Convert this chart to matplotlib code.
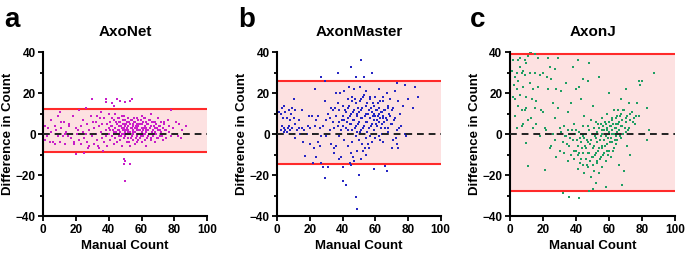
import matplotlib
matplotlib.use("Agg")
import matplotlib.pyplot as plt
from matplotlib.ticker import MultipleLocator

plt.rcParams["font.family"] = ["Liberation Sans", "DejaVu Sans"]
plt.rcParams["font.weight"] = "bold"

# ---- data ----
TITLES = ["AxoNet", "AxonMaster", "AxonJ"]
LETTERS = ["a", "b", "c"]
POINT_COLORS = ["#c81ec8", "#2626c4", "#1f9e63"]

# limits of agreement (upper, lower)
UPPER = [12.5, 26.0, 39.3]
LOWER = [-8.5, -14.7, -27.8]

axonet_pts = [
    (1, -3), (1, 4), (2, -1), (3, 3), (4, -4), (5, 7), (5, 1), (6, -4), (7, -5), (7, 4),
    (8, 2), (9, -1), (9, 9), (10, -4), (10, 11), (11, 3), (11, 6), (12, -1), (13, 0), (13, -5),
    (14, 1), (15, -1), (16, 5), (17, -2), (18, 9), (19, -4), (20, 3), (20, -9.5), (21, 2), (22, -3),
    (22, 12), (23, -5), (23, 4), (24, 7), (25, -2), (25, -9), (26, 0), (26, 13), (27, 5), (27, -4),
    (28, 2), (28, -6), (29, 9), (30, -1), (30, 17),
    (31, 3), (31, -5), (32, 6), (32, 0), (33, -3), (33, 9), (34, 4), (34, -7), (35, 1), (35, 11),
    (36, -2), (36, 5), (37, 8), (37, -4), (38, 2), (38, 17), (38, 15.5), (38, -1), (39, 5), (39, -6),
    (40, 10), (40, 0), (40, 3),
    (41, -3), (41, 6), (41, 2), (42, 8), (42, -1), (42, 4), (42, 15), (43, 1), (43, -5), (43, 7),
    (43, 14), (44, 3), (44, -2), (44, 10), (45, 5), (45, 0), (45, 17), (45, -4), (46, 2), (46, 8),
    (46, -1), (46, 4), (47, 6), (47, -3), (47, 16), (47, 1), (48, 3), (48, 9), (48, -6), (48, 0),
    (49, 5), (49, 2), (49, -2), (49, -12), (49, -14.5), (50, 4), (50, 7), (50, -1), (50, -13), (50, -23),
    (50, 15.5), (50, 1),
    (51, 3), (51, -4), (51, 6), (51, 0), (52, 2), (52, 8), (52, -2), (52, 4), (53, 1), (53, 5),
    (53, 16), (53, -14.5), (53, -6), (54, 3), (54, -1), (54, 7), (54, 17), (55, 2), (55, 4), (55, -3),
    (55, 0), (56, 6), (56, 1), (56, -5), (56, 3), (57, 8), (57, -1), (57, 2), (57, 5), (58, 0),
    (58, 4), (58, -3), (58, 7), (59, 2), (59, -2), (59, 5), (60, 3), (60, 1), (60, -4), (60, 9),
    (61, 2), (61, 6), (61, -1), (62, 4), (62, 0), (62, 8), (62, -3), (63, 3), (63, 1), (63, -6),
    (64, 5), (64, 2), (64, -1), (65, 7), (65, 0), (65, 3), (66, -3), (66, 4), (66, 10), (67, 2),
    (67, -1), (67, 6), (68, 1), (68, 3), (68, -4), (69, 5), (69, 0), (70, 2), (70, -2), (70, 8),
    (71, 4), (71, -1), (72, 1), (72, 6), (73, -3), (73, 3), (74, 0), (74, 5), (75, 2), (75, -2),
    (76, 7), (77, 1), (77, 4), (78, -1), (78, 12), (79, 3), (80, 0), (81, 6), (82, -1), (83, 5),
    (84, -2), (85, 2), (87, 4),
    (40.5, 6), (41.5, 4), (42.5, 2), (43.5, 3), (44.5, 6), (44.5, 1), (45.5, 2), (45.5, 8), (46.5, 6), (46.5, 0),
    (47.5, 4), (47.5, -1), (48.5, 5), (48.5, 2), (48.5, 7), (49.5, 0), (49.5, 3), (49.5, 9), (50.5, 2), (50.5, 5),
    (51.5, 1), (51.5, 4), (51.5, 8), (52.5, 0), (52.5, 6), (52.5, -4), (53.5, 3), (53.5, -2), (53.5, 7), (54.5, 1),
    (54.5, 5), (54.5, -3), (55.5, 6), (55.5, 8), (55.5, 1), (56.5, -2), (56.5, 4), (57.5, 0), (57.5, 3), (57.5, -4),
    (58.5, 2), (58.5, 5), (59.5, 0), (59.5, 7), (59.5, -1), (60.5, 5), (60.5, -1), (61.5, 3), (61.5, 0), (61.5, 8),
    (62.5, 2), (62.5, 6), (63.5, 5), (63.5, -2), (64.5, 0), (64.5, 7), (65.5, 4), (65.5, -2), (66.5, 1), (66.5, 6),
    (67.5, 4), (67.5, 0), (68.5, 6), (69.5, 3), (69.5, -2), (70.5, 4), (71.5, 2), (72.5, -1), (73.5, 6), (74.5, 2),
    (20.5, 0), (15.5, 4), (24.5, 1), (33.5, -6), (36.5, -8), (34.5, 8), (30.5, 6), (27.5, -7), (18.5, -5), (12.5, 6),
]

axonmaster_pts = [
    (0, 5), (0, 8), (1, 11), (2, 2), (2, 10), (3, 4), (3, 13), (4, 1), (4, 3), (4, 14),
    (5, 2), (5, 11), (6, 8), (6, 1), (7, 4), (7, 12), (8, 7), (8, 2), (9, 3), (9, 13),
    (10, 17), (10, 0), (10, 8), (11, -2), (11, 5), (11, 12), (12, 2), (13, 3), (14, 0), (15, 12),
    (15, 3), (16, -4), (17, -10.5), (18, 0), (19, 4), (20, -5), (20, 3),
    (21, 9), (22, -14), (22, 0), (23, 22), (23, 4), (24, -11), (24, 7), (25, -4), (25, 9), (26, -6),
    (26, 3), (27, 28), (27, -14), (28, -16), (28, 4), (29, -21.5), (29, 26), (29, 16), (30, 7), (30, -1),
    (31, -16), (31, 10), (32, 2), (33, 13), (33, -5), (34, 6), (34, 12), (35, -7), (35, 3),
    (36, 20), (36, 9), (36, -6), (37, 4), (37, 30), (37, 15), (38, -1), (38, 12), (38, 6), (39, -11),
    (39, 2), (40, -23), (40, -16), (40, 9), (40, 14), (41, 7), (41, 21), (41, -3), (42, -25), (42, 11),
    (42, 3), (43, 17), (43, -6), (43, 8), (44, 0), (44, 23), (44, 14), (45, 33), (45, 5), (45, -15),
    (45, 10), (45, -9),
    (46, 18), (46, 2), (46, -4), (47, 12), (47, -13), (47, 7), (47, 22), (48, 28), (48, -30.5), (48, 4),
    (48, 15), (48, -1), (49, -36.5), (49, 9), (49, 1), (49, -8), (50, -20), (50, 11), (50, 6), (50, -3),
    (51, 36), (51, 17), (51, 2), (51, -12), (52, 8), (52, -5), (52, 13), (53, 28), (53, 0), (53, 4),
    (53, 19), (54, 10), (54, -2), (54, -10), (55, 6), (55, 15), (55, 1),
    (56, 12), (56, -7), (56, 3), (57, 18), (57, 8), (57, -1), (58, 30), (58, 5), (58, 11), (58, -4),
    (59, -17), (59, 14), (59, 2), (60, 9), (60, 18), (60, -2), (61, 7), (61, 12), (61, 4), (62, 10),
    (62, 22), (62, -1), (63, 8), (63, 16), (63, -3), (64, 11), (64, 5), (64, 0), (65, 9), (65, 18),
    (65, -4),
    (66, -15.5), (66, 12), (66, 3), (67, -18), (67, 7), (67, 20), (68, 14), (68, 1), (69, 9), (69, 17),
    (70, 5), (70, -7), (71, 13), (71, -3), (72, 21), (72, 8), (73, 25), (73, -5), (73, 2), (74, 16),
    (74, -7), (75, 10), (76, 4), (77, 14), (78, 0), (78, 24), (79, -1), (80, 17), (83, 13), (84, 23),
    (86, 18),
    (40.5, 4), (41.5, 12), (42.5, 6), (43.5, 2), (43.5, 13), (44.5, 9), (44.5, 5), (45.5, 16), (46.5, 11), (46.5, 7),
    (47.5, 3), (47.5, 17), (48.5, 10), (49.5, 13), (49.5, 5), (50.5, 16), (50.5, 1), (51.5, 8), (51.5, 12), (52.5, 3),
    (52.5, 18), (53.5, 9), (53.5, -7), (54.5, 14), (54.5, 6), (55.5, 10), (55.5, -5), (56.5, 8), (56.5, 17), (57.5, 4),
    (57.5, 13), (58.5, 9), (58.5, 15), (59.5, 7), (59.5, 10), (60.5, 12), (60.5, 5), (61.5, 9), (61.5, 15), (62.5, 6),
    (62.5, 13), (63.5, 11), (63.5, 3), (64.5, 8), (64.5, 16), (65.5, 12), (65.5, 6), (66.5, 8), (67.5, 13), (67.5, 3),
    (68.5, 10), (69.5, 5), (70.5, 12), (71.5, 7), (72.5, -2), (74.5, 3), (3.5, 8), (6.5, 3), (8.5, 10), (13.5, 7),
    (16.5, 2), (19.5, 9), (22.5, -7), (26.5, -1), (32.5, 8), (34.5, -9), (35.5, 13), (37.5, -12), (38.5, 20), (39.5, 7),
    (52.5, -8), (54.5, 21), (50.5, 23), (46.5, -11), (44.5, -14),
]

axonj_pts = [
    (0, 11), (1, 31), (2, 18), (2, 36), (3, 9), (3, 17), (3, 28), (4, 22), (4, 3), (5, 36),
    (5, 26), (5, 14), (6, 33), (6, 37), (6, 19), (7, 30), (7, 12), (7, 4), (8, 31), (8, 23),
    (8, 5), (9, 29), (9, 12), (9, 36), (10, 35), (10, 13), (10, -4.5), (11, -15.5), (11, 38), (11, 7),
    (12, 40), (12, 25), (12, 30), (13, 8), (13, 40), (14, 22), (14, 3), (15, 39), (15, 13), (15, 30),
    (16, 16), (16, 5), (17, 23), (17, 37), (18, -1), (18, 29), (19, 12), (20, 11), (20, 30), (21, -17.5),
    (21, 3), (22, 2), (23, 22), (23, 37), (24, 33), (24, -7), (25, -6), (25, 27), (26, 15), (26, 0),
    (27, 8), (27, -3), (28, 22), (28, -11), (29, 13), (29, 37), (30, 3), (30, -8),
    (31, 21), (31, 1), (32, -29), (32, -4), (33, 4), (33, -9), (34, 25), (34, -1), (35, 2), (35, -13),
    (35, 11), (36, -30.5), (36, -6), (36, 0), (37, 15), (37, -10), (38, 33), (38, -3), (39, -12), (39, 5),
    (40, 22), (40, -8), (40, 2), (41, 36), (41, -17), (41, -6), (42, -31), (42, 23), (42, -9), (42, 1),
    (43, 17), (43, -4), (43, -12), (44, 27), (44, -15), (44, 4), (45, -2), (45, -19), (45, 9),
    (46, -7), (46, 0), (46, -12), (47, 26), (47, -4), (47, -16), (47, 4), (48, -28), (48, 35), (48, -9),
    (48, 2), (49, -3), (49, -21), (49, 7), (50, -27), (50, 14), (50, -11), (50, 0), (51, -6), (51, -18),
    (51, 3), (52, -2), (52, -24), (52, -9), (52, 6), (53, -14), (53, 1), (53, -4), (54, -19), (54, -7),
    (54, 3), (54, 28), (55, -1), (55, -11), (55, 5),
    (56, 0), (56, -6), (56, -16), (56, 8), (57, -3), (57, -9), (57, 2), (58, -26), (58, 5), (58, -13),
    (58, -1), (59, 3), (59, -5), (59, 10), (60, -8), (60, 1), (60, 20), (60, 6), (61, -2), (61, 4),
    (61, -11), (62, 8), (62, -4), (62, 2), (63, 0), (63, 12), (63, -7), (64, 5), (64, -1), (64, 3),
    (65, 9), (65, -3), (65, 1),
    (66, -15), (66, 6), (66, 2), (67, 10), (67, -2), (67, 17), (68, -25), (68, 4), (68, 7), (69, -18),
    (69, 12), (70, 1), (70, 22), (70, 6), (71, -6), (71, 9), (72, 3), (72, 15), (73, 7), (73, -10),
    (74, 0), (74, 11), (75, 8), (76, 5), (77, 15), (78, 9), (78, 26), (79, 24), (80, 26), (83, 13),
    (83, -3), (84, 2), (87, 30),
    (40.5, -3), (41.5, -10), (42.5, -14), (43.5, -7), (44.5, -9), (44.5, -1), (45.5, -6), (46.5, -3), (46.5, -15), (47.5, -9),
    (48.5, -13), (48.5, -5), (49.5, -11), (49.5, 0), (50.5, -7), (50.5, -15), (51.5, -1), (51.5, -10), (52.5, 0), (52.5, -13),
    (53.5, -8), (53.5, 5), (54.5, -3), (54.5, -12), (55.5, -7), (55.5, 2), (56.5, -10), (56.5, 4), (57.5, -6), (57.5, 6),
    (58.5, -8), (58.5, 2), (59.5, -10), (59.5, -2), (60.5, -4), (60.5, 4), (61.5, 0), (61.5, 7), (62.5, -8), (62.5, 5),
    (63.5, 3), (63.5, -3), (64.5, 8), (64.5, -5), (65.5, 5), (65.5, 12), (66.5, -1), (66.5, 9), (67.5, 4), (68.5, 0),
    (68.5, 12), (69.5, 3), (70.5, 8), (71.5, 2), (72.5, 10), (74.5, 6), (76.5, 9), (36.5, -2), (38.5, -8), (34.5, -5),
    (33.5, -1), (39.5, 0), (37.5, 2), (42.5, -2), (2.5, 24), (4.5, 30), (9.5, 18), (13.5, 17), (22.5, 28), (27.5, 32),
]

PANELS = [axonet_pts, axonmaster_pts, axonj_pts]

X_TICKS = [0, 20, 40, 60, 80, 100]
Y_TICKS = [-40, -20, 0, 20, 40]

# axes placement in figure fraction (left, bottom, width, height)
AX_POS = [
    (0.0632, 0.1595, 0.239, 0.637),
    (0.4048, 0.1595, 0.2385, 0.637),
    (0.7445, 0.1595, 0.241, 0.637),
]

fig = plt.figure(figsize=(6.85, 2.57), dpi=100)

for i in range(3):
    ax = fig.add_axes(AX_POS[i])
    pts = PANELS[i]
    xs = [p[0] for p in pts]
    ys = [p[1] for p in pts]

    # limits-of-agreement band, bounds, points, zero line
    ax.axhspan(LOWER[i], UPPER[i], xmin=0, xmax=1, color="#fde1e1", lw=0, zorder=0)
    ax.axhline(UPPER[i], color="#ff2a2a", lw=1.5, zorder=1)
    ax.axhline(LOWER[i], color="#ff2a2a", lw=1.5, zorder=1)
    ax.scatter(xs, ys, s=3.5, marker="s", color=POINT_COLORS[i], lw=0, zorder=2)
    ax.axhline(0, color="#222222", lw=1.4, ls=(0, (3.5, 2.5)), zorder=3)

    ax.set_xlim(0, 100)
    ax.set_ylim(-40, 40)
    ax.set_xticks(X_TICKS)
    ax.set_yticks(Y_TICKS)
    ax.yaxis.set_minor_locator(MultipleLocator(10))
    for s in ["top", "right"]:
        ax.spines[s].set_visible(False)
    for s in ["left", "bottom"]:
        ax.spines[s].set_linewidth(1.5)
    ax.tick_params(which="major", length=3.5, width=1.3, labelsize=8.5, pad=2)
    ax.tick_params(which="minor", length=2.5, width=1.3)
    for lab in ax.get_xticklabels() + ax.get_yticklabels():
        lab.set_fontweight("bold")

    ax.set_xlabel("Manual Count", fontsize=9.5, fontweight="bold", labelpad=3)
    ax.set_ylabel("Difference in Count", fontsize=9.5, fontweight="bold", labelpad=1)
    ax.set_title(TITLES[i], fontsize=11, fontweight="bold", pad=12)
    ax.text(-0.24, 1.2, LETTERS[i], transform=ax.transAxes, fontsize=20,
            fontweight="bold", ha="left", va="center")

fig.savefig("out.png", dpi=100)
